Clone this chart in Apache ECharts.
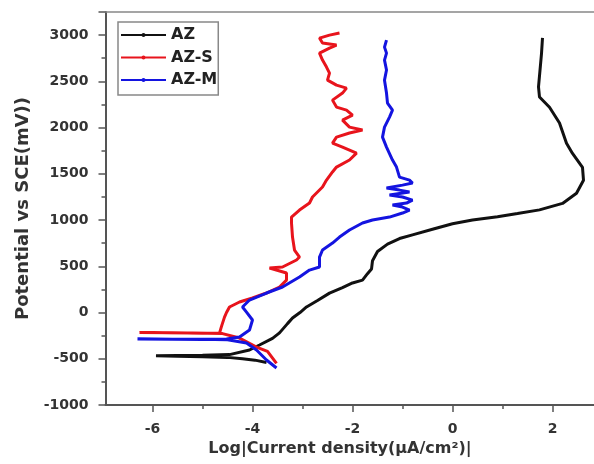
<!DOCTYPE html>
<html><head><meta charset="utf-8">
<script src="https://cdn.jsdelivr.net/npm/echarts@6/dist/echarts.min.js"></script>
<style>html,body{margin:0;padding:0;background:#fff}#c{width:594px;height:464px}</style>
</head><body><div id="c"></div>
<script>
const seriesNames = ['AZ', 'AZ-S', 'AZ-M'];

const azX = [-3.72, -3.95, -4.2, -4.5, -5.0, -5.5, -5.93, -5.5, -5.0, -4.46, -4.06, -3.86, -3.6, -3.46, -3.3, -3.2, -3.05, -2.92, -2.7, -2.46, -2.2, -2.0, -1.8, -1.7, -1.62, -1.6, -1.5, -1.3, -1.06, -0.8, -0.4, 0.0, 0.4, 0.9, 1.3, 1.74, 2.2, 2.48, 2.62, 2.6, 2.4, 2.28, 2.14, 1.94, 1.74, 1.72, 1.78, 1.8];
const azY = [-540, -515, -500, -485, -478, -474, -468, -464, -462, -455, -405, -351, -280, -220, -120, -60, 0, 60, 130, 210, 270, 320, 350, 420, 470, 560, 660, 740, 800, 840, 900, 960, 1000, 1035, 1070, 1110, 1180, 1290, 1430, 1570, 1720, 1830, 2050, 2220, 2330, 2440, 2800, 2970];

const azsX = [-3.52, -3.7, -3.92, -4.26, -4.6, -5.2, -5.8, -6.26, -5.6, -5.0, -4.66, -4.62, -4.56, -4.52, -4.46, -4.26, -4.0, -3.72, -3.46, -3.32, -3.32, -3.66, -3.4, -3.12, -3.06, -3.16, -3.2, -3.22, -3.22, -3.06, -2.86, -2.8, -2.6, -2.52, -2.4, -2.32, -2.06, -1.92, -2.2, -2.4, -2.32, -2.06, -1.8, -2.06, -2.2, -2.0, -2.12, -2.32, -2.4, -2.2, -2.12, -2.32, -2.5, -2.46, -2.52, -2.6, -2.66, -2.46, -2.32, -2.6, -2.66, -2.46, -2.26];
const azsY = [-550, -420, -373, -276, -228, -222, -218, -215, -220, -225, -222, -150, -50, 0, 60, 114, 157, 211, 276, 351, 427, 481, 492, 568, 600, 676, 816, 968, 1032, 1108, 1184, 1249, 1357, 1432, 1520, 1573, 1649, 1724, 1789, 1832, 1897, 1941, 1973, 2005, 2081, 2135, 2189, 2222, 2297, 2373, 2427, 2459, 2513, 2589, 2654, 2730, 2805, 2859, 2892, 2914, 2968, 3000, 3022];

const azmX = [-3.52, -3.72, -3.92, -4.12, -4.5, -5.0, -5.6, -6.3, -5.6, -5.0, -4.52, -4.26, -4.06, -4.0, -4.12, -4.2, -4.06, -3.72, -3.4, -3.06, -2.86, -2.66, -2.66, -2.6, -2.4, -2.26, -2.06, -1.8, -1.6, -1.26, -1.0, -0.86, -1.0, -1.2, -0.92, -0.8, -1.0, -1.26, -0.86, -1.06, -1.32, -1.0, -0.8, -0.86, -1.06, -1.12, -1.2, -1.32, -1.4, -1.36, -1.26, -1.2, -1.3, -1.32, -1.36, -1.32, -1.36, -1.32, -1.36, -1.32];
const azmY = [-600, -513, -405, -330, -295, -290, -288, -287, -290, -292, -285, -265, -189, -81, 5, 60, 135, 211, 276, 384, 459, 492, 600, 676, 751, 816, 892, 968, 1000, 1032, 1076, 1108, 1141, 1162, 1184, 1216, 1249, 1270, 1303, 1324, 1346, 1378, 1400, 1432, 1465, 1573, 1649, 1789, 1897, 2005, 2114, 2189, 2265, 2373, 2513, 2622, 2730, 2805, 2870, 2946];

const xMajorTicks = [-6, -4, -2, 0, 2];
const xMinorTicks = [-5, -3, -1, 1];

const xName = 'Log|Current density(\u03bcA/cm\u00b2)|';
const yName = 'Potential vs SCE(mV))';

function zip(xs, ys) { return xs.map((x, i) => [x, ys[i]]); }

const axisColor = '#555';
const labelFont = { fontFamily: 'DejaVu Sans', fontWeight: 'bold', fontSize: 14, color: '#333' };
const xMin = -6.94, xMax = 3;

const chart = echarts.init(document.getElementById('c'), null, { renderer: 'canvas' });
chart.setOption({
  animation: false,
  backgroundColor: '#fff',
  grid: { left: 105.5, top: 12, width: 497, height: 393, containLabel: false, outerBoundsMode: 'none' },
  legend: {
    data: seriesNames,
    orient: 'vertical',
    left: 118, top: 22,
    padding: [5, 1, 7, 2],
    itemWidth: 45, itemHeight: 5, itemGap: 6.5,
    borderColor: '#888', borderWidth: 1.5,
    lineStyle: { width: 2 },
    textStyle: { fontFamily: 'DejaVu Sans', fontWeight: 'bold', fontSize: 16, color: '#222' }
  },
  xAxis: [
    {
      type: 'value', min: xMin, max: xMax, position: 'bottom',
      name: xName, nameLocation: 'middle', nameGap: 32,
      nameTextStyle: { fontFamily: 'DejaVu Sans', fontWeight: 'bold', fontSize: 16, color: '#333', padding: [0, 28, 0, 0] },
      axisLine: { show: true, onZero: false, lineStyle: { color: axisColor, width: 2 } },
      axisTick: { show: true, length: 7, customValues: xMajorTicks, lineStyle: { color: axisColor, width: 1.5 } },
      axisLabel: Object.assign({ margin: 17, customValues: xMajorTicks }, labelFont),
      splitLine: { show: false }
    },
    {
      type: 'value', min: xMin, max: xMax, position: 'bottom',
      axisLine: { show: false, onZero: false },
      axisTick: { show: true, length: 4, customValues: xMinorTicks, lineStyle: { color: axisColor, width: 1.5 } },
      axisLabel: { show: false },
      splitLine: { show: false }
    },
    {
      type: 'value', min: xMin, max: xMax, position: 'top',
      axisLine: { show: true, onZero: false, lineStyle: { color: '#888', width: 1.5 } },
      axisTick: { show: false }, axisLabel: { show: false }, splitLine: { show: false }
    }
  ],
  yAxis: {
    type: 'value', min: -1000, max: 3250, interval: 500,
    name: yName, nameLocation: 'middle', nameGap: 73,
    nameTextStyle: { fontFamily: 'DejaVu Sans', fontWeight: 'bold', fontSize: 18, color: '#333' },
    axisLine: { show: true, onZero: false, lineStyle: { color: axisColor, width: 2 } },
    axisTick: { show: true, length: 7, lineStyle: { color: axisColor, width: 1.5 } },
    minorTick: { show: true, splitNumber: 2, length: 4, lineStyle: { color: axisColor, width: 1.5 } },
    axisLabel: Object.assign({ margin: 17, showMaxLabel: false,
      formatter: v => (v > 3000 ? '' : String(v)) }, labelFont),
    splitLine: { show: false }
  },
  series: [
    { name: 'AZ', type: 'line', data: zip(azX, azY), showSymbol: false, symbol: 'circle', symbolSize: 5,
      color: '#111', lineStyle: { width: 3, color: '#111' } },
    { name: 'AZ-S', type: 'line', data: zip(azsX, azsY), showSymbol: false, symbol: 'circle', symbolSize: 5,
      color: '#e8141c', lineStyle: { width: 3, color: '#e8141c' } },
    { name: 'AZ-M', type: 'line', data: zip(azmX, azmY), showSymbol: false, symbol: 'circle', symbolSize: 5,
      color: '#1414e0', lineStyle: { width: 3, color: '#1414e0' } }
  ]
});
</script></body></html>
